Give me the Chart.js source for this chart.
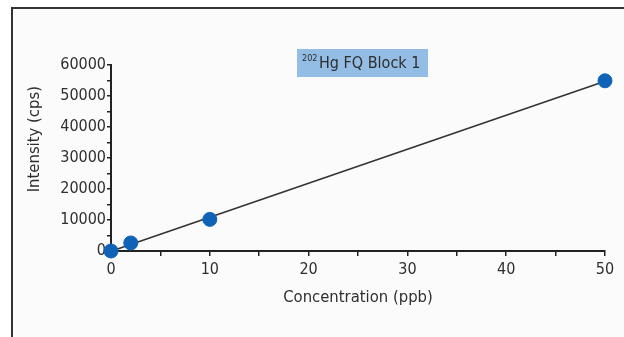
<!DOCTYPE html>
<html>
<head>
<meta charset="utf-8">
<script src="https://cdn.jsdelivr.net/npm/chart.js@4.4.1/dist/chart.umd.min.js"></script>
<style>
  html, body { margin: 0; padding: 0; background: #fff; }
  #wrap { position: relative; width: 624px; height: 337px; overflow: hidden; }
  #frame {
    position: absolute; left: 11px; top: 7px; width: 640px; height: 340px;
    border-top: 2px solid #333; border-left: 2px solid #333; background: #fbfbfb;
  }
  canvas { position: absolute; left: 0; top: 0; }
</style>
</head>
<body>
<div id="wrap">
  <div id="frame"></div>
  <canvas id="myChart" width="624" height="337"></canvas>
</div>
<script>
let concentration = [0, 2, 10, 50]
let intensity = [0, 2600, 10200, 54900]
let xTicks = [0, 10, 20, 30, 40, 50]
let yTicks = [0, 10000, 20000, 30000, 40000, 50000, 60000]

let font = "'DejaVu Sans Condensed', 'Liberation Sans', sans-serif"
let textColor = '#2e2e2e'
let axisColor = '#222'

// least squares line through the standards
let n = concentration.length
let mx = concentration.reduce((a, b) => a + b, 0) / n
let my = intensity.reduce((a, b) => a + b, 0) / n
let sxy = 0, sxx = 0
for (let i = 0; i < n; i++) {
    sxy += (concentration[i] - mx) * (intensity[i] - my)
    sxx += (concentration[i] - mx) ** 2
}
let slope = sxy / sxx
let intercept = my - slope * mx
let xFirst = concentration[0], xLast = concentration[n - 1]
let fitLine = [
    {x: xFirst, y: slope * xFirst + intercept},
    {x: xLast, y: slope * xLast + intercept},
]

let points = concentration.map((c, i) => ({x: c, y: intensity[i]}))

// blue label box with superscript isotope number
let labelBox = {
    id: 'labelBox',
    afterDraw(chart) {
        let ctx = chart.ctx
        ctx.save()
        ctx.fillStyle = '#93bde4'
        ctx.fillRect(297, 49, 131, 28)
        ctx.fillStyle = textColor
        ctx.textBaseline = 'alphabetic'
        ctx.font = '9px ' + font
        ctx.fillText('202', 302, 61)
        ctx.font = '16px ' + font
        ctx.fillText('Hg FQ Block 1', 319, 68)
        ctx.restore()
    }
}

let chartCtx = document.getElementById('myChart').getContext('2d')
let myChart = new Chart(chartCtx, {
    type: 'scatter',
    data: {
        datasets: [
            {
                data: points,
                backgroundColor: '#0f62b5',
                borderColor: '#0f62b5',
                pointRadius: 7,
                pointHoverRadius: 7,
                clip: false,
                order: 1,
            },
            {
                data: fitLine,
                showLine: true,
                borderColor: '#333',
                borderWidth: 1.6,
                pointRadius: 0,
                clip: false,
                order: 2,
            },
        ],
    },
    options: {
        responsive: false,
        animation: false,
        layout: {
            padding: {left: 0, right: 19, top: 65, bottom: 0},
        },
        plugins: {
            legend: {display: false},
            tooltip: {enabled: false},
        },
        scales: {
            x: {
                type: 'linear',
                min: 0,
                max: 50,
                afterFit(scale) { scale.height = 86 },
                afterBuildTicks(scale) {
                    let t = []
                    for (let v = 0; v <= 50; v += 5) t.push({value: v})
                    scale.ticks = t
                },
                ticks: {
                    color: textColor,
                    font: {family: font, size: 16},
                    padding: 4,
                    maxRotation: 0,
                    autoSkip: false,
                    callback: (v) => xTicks.includes(v) ? v : '',
                },
                grid: {drawOnChartArea: false, drawTicks: true, tickLength: 5, color: axisColor, lineWidth: 1.5},
                border: {color: axisColor, width: 2},
                title: {
                    display: true,
                    text: 'Concentration (ppb)',
                    color: textColor,
                    font: {family: font, size: 16.5},
                    padding: {top: 0, bottom: 29},
                },
            },
            y: {
                type: 'linear',
                min: 0,
                max: 60000,
                afterFit(scale) { scale.width = 111 },
                afterBuildTicks(scale) {
                    let t = []
                    for (let v = 0; v <= 60000; v += 5000) t.push({value: v})
                    scale.ticks = t
                },
                ticks: {
                    color: textColor,
                    font: {family: font, size: 16},
                    padding: 1,
                    autoSkip: false,
                    callback: (v) => yTicks.includes(v) ? v : '',
                },
                grid: {drawOnChartArea: false, drawTicks: true, tickLength: 4, color: axisColor, lineWidth: 1.5},
                border: {color: axisColor, width: 2},
                title: {
                    display: true,
                    // leading spaces lift the title a bit above the axis middle, like the original
                    text: '        Intensity (cps)',
                    color: textColor,
                    font: {family: font, size: 16.5},
                    padding: {top: 25, bottom: 0},
                },
            },
        },
    },
    plugins: [labelBox],
})
</script>
</body>
</html>
